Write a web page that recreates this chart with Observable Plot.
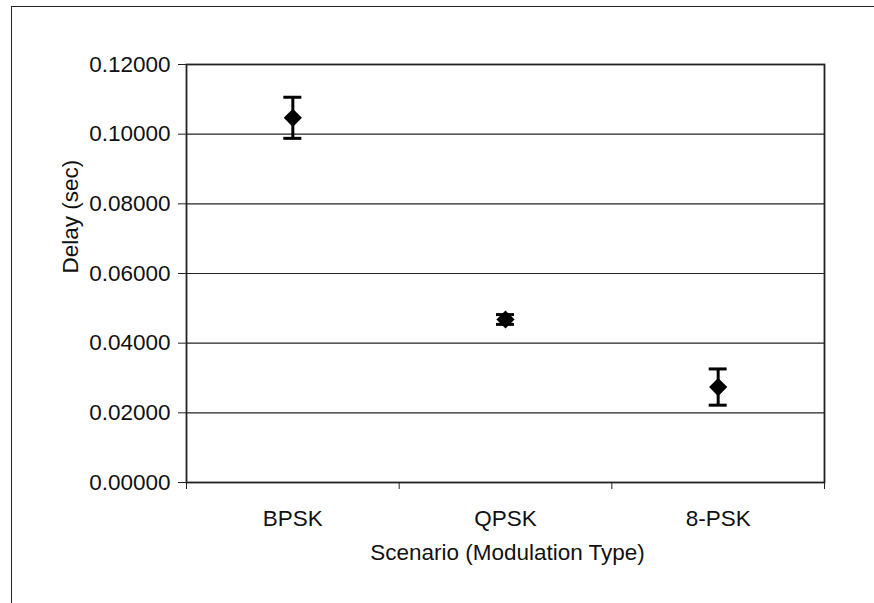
<!DOCTYPE html>
<html>
<head>
<meta charset="utf-8">
<script src="https://cdn.jsdelivr.net/npm/d3@7"></script>
<script src="https://cdn.jsdelivr.net/npm/@observablehq/plot@0.6"></script>
<style>
  html, body { margin: 0; padding: 0; background: white; }
  #wrap { position: relative; width: 874px; height: 603px; }
  #border { position: absolute; left: 11px; top: 6px; right: 0; bottom: 0; border-left: 1.5px solid #222; border-top: 1.5px solid #222; pointer-events: none; }
</style>
</head>
<body>
<div id="wrap"><div id="border"></div></div>
<script>
const categories = ["BPSK", "QPSK", "8-PSK"];
const delayMean = [0.1047, 0.0468, 0.0274];
const delayErr = [0.0059, 0.0014, 0.0052];
const yTicks = [0, 0.02, 0.04, 0.06, 0.08, 0.10, 0.12];
const xBoundaries = [0, 1, 2, 3];

const data = categories.map((c, i) => ({
  cat: c, pos: i + 0.5, mean: delayMean[i],
  lo: delayMean[i] - delayErr[i], hi: delayMean[i] + delayErr[i]
}));

const FS = 22.5;

const chart = Plot.plot({
  width: 874,
  height: 603,
  marginLeft: 186,
  marginRight: 50,
  marginTop: 64,
  marginBottom: 121,
  style: { fontFamily: "'Liberation Sans', Arial, sans-serif", fontSize: FS + "px", background: "transparent", color: "#111" },
  x: { type: "linear", domain: [0, 3] },
  y: { domain: [0, 0.12] },
  marks: [
    Plot.ruleY(yTicks, { stroke: "#222", strokeWidth: 1.2 }),
    Plot.frame({ stroke: "#222", strokeWidth: 1.8 }),
    Plot.axisY({ ticks: yTicks, tickFormat: d3.format(".5f"), tickSize: 8, tickPadding: 8, label: null, fontSize: FS, stroke: "#222" }),
    Plot.axisX({ ticks: xBoundaries, tickFormat: () => "", tickSize: 7, label: null, stroke: "#222" }),
    Plot.text(data, { x: "pos", y: 0, text: "cat", dy: 36, fontSize: FS, fill: "#111" }),
    Plot.ruleX(data, { x: "pos", y1: "lo", y2: "hi", stroke: "#000", strokeWidth: 3 }),
    Plot.ruleY(data, { x1: "pos", x2: "pos", y: "hi", stroke: "#000", strokeWidth: 3, insetLeft: -9, insetRight: -9 }),
    Plot.ruleY(data, { x1: "pos", x2: "pos", y: "lo", stroke: "#000", strokeWidth: 3, insetLeft: -9, insetRight: -9 }),
    Plot.dot(data, { x: "pos", y: "mean", symbol: "diamond2", r: 8.2, fill: "#000", stroke: "none" }),
    Plot.text(["Delay (sec)"], { frameAnchor: "left", text: d => d, rotate: -90, dx: -116, fontSize: FS, fill: "#111" }),
    Plot.text(["Scenario (Modulation Type)"], { frameAnchor: "bottom", text: d => d, dx: 2, dy: 77, fontSize: FS, fill: "#111" })
  ]
});
document.getElementById("wrap").prepend(chart);
</script>
</body>
</html>
